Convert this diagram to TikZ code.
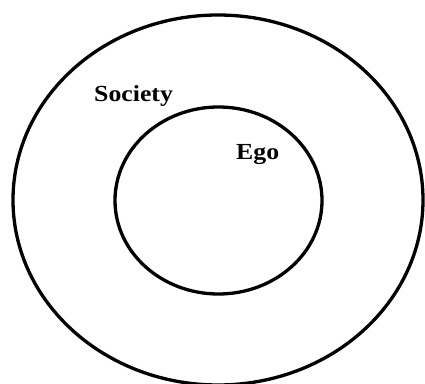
\documentclass[tikz,border=0pt]{standalone}
\usepackage{fontspec}
\usetikzlibrary{shapes.geometric}
\setmainfont{Liberation Serif}[FakeStretch=1.12]
\begin{document}
\begin{tikzpicture}[x=1pt,y=1pt,
  ring/.style={draw=black,line width=3.3pt,ellipse,inner sep=0pt},
  lbl/.style={anchor=base west,inner sep=0pt,font=\fontsize{23}{27}\selectfont\bfseries}]
\useasboundingbox (0,0) rectangle (425,383);
\clip (0,0) rectangle (425,383);
\node[ring,minimum width=410pt,minimum height=370pt] (society) at (218,183) {};
\node[ring,minimum width=207pt,minimum height=187pt] (ego) at (218.5,182.5) {};
\node[lbl] (societylbl) at (94,281) {Society};
\node[lbl] (egolbl) at (236,223) {Ego};
\end{tikzpicture}
\end{document}
